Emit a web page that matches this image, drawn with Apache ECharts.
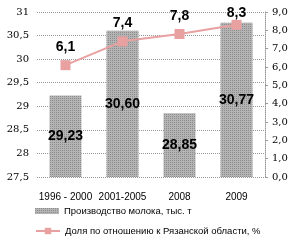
<!DOCTYPE html>
<html><head><meta charset="utf-8">
<script src="https://cdn.jsdelivr.net/npm/echarts@6/dist/echarts.min.js"></script>
<style>html,body{margin:0;padding:0;background:#fff}#c{width:296px;height:240px}</style>
</head><body><div id="c"></div>
<script>
const categories = ['1996 - 2000', '2001-2005', '2008', '2009'];
const milkProduction = [29.23, 30.60, 28.85, 30.77];
const regionShare = [6.1, 7.4, 7.8, 8.3];
const seriesNames = ['Производство молока, тыс. т', 'Доля по отношению к Рязанской области, %'];

const comma = s => String(s).replace('.', ',');
const legendText = {fontFamily: 'Liberation Sans', fontSize: 9.5, color: '#000'};
const chart = echarts.init(document.getElementById('c'), null, {renderer: 'canvas'});
chart.setOption({
  animation: false,
  grid: {left: 37, right: 31, top: 12, bottom: 63},
  legend: [{
    left: 35, top: 206, padding: 0, itemWidth: 24, itemHeight: 6, itemGap: 4,
    textStyle: legendText,
    data: [{name: seriesNames[0], icon: 'rect'}]
  }, {
    left: 35, top: 226, padding: 0, itemWidth: 24, itemHeight: 8,
    textStyle: legendText,
    data: [{name: seriesNames[1]}]
  }],
  xAxis: {
    type: 'category', data: categories,
    axisLine: {show: false}, axisTick: {show: false},
    axisLabel: {interval: 0, fontFamily: 'Liberation Sans', fontSize: 10, color: '#000', margin: 15}
  },
  yAxis: [{
    type: 'value', min: 27.5, max: 31, interval: 0.5,
    axisLine: {show: false}, axisTick: {show: false},
    axisLabel: {fontFamily: 'DejaVu Serif', fontSize: 10, color: '#000', margin: 8, formatter: v => comma(v)},
    splitLine: {lineStyle: {color: '#999', type: [1, 1], width: 1}}
  }, {
    type: 'value', min: 0, max: 9, interval: 1, position: 'right',
    axisLine: {show: true, lineStyle: {color: '#999', type: [1, 1]}},
    axisTick: {show: true, length: 3, lineStyle: {color: '#999'}},
    axisLabel: {fontFamily: 'DejaVu Serif', fontSize: 10, color: '#000', margin: 7, formatter: v => comma(v.toFixed(1))},
    splitLine: {show: false}
  }],
  series: [{
    name: seriesNames[0], type: 'bar', yAxisIndex: 0, data: milkProduction,
    barWidth: '56%',
    itemStyle: {color: '#b4b4b4', decal: {symbol: 'rect', symbolSize: 1, dashArrayX: [1, 1], dashArrayY: [1, 1], color: '#8c8c8c'}},
    label: {show: true, position: 'inside', fontFamily: 'Liberation Sans', fontWeight: 'bold', fontSize: 14, color: '#000',
      formatter: p => comma(p.value.toFixed(2))}
  }, {
    name: seriesNames[1], type: 'line', yAxisIndex: 1,
    data: regionShare.map((v, i) => i === regionShare.length - 1 ? {value: v, label: {distance: 0}} : v),
    symbol: 'rect', symbolSize: 10,
    lineStyle: {color: '#e8a0a0', width: 2},
    itemStyle: {color: '#e8a0a0'},
    label: {show: true, position: 'top', distance: 6, fontFamily: 'Liberation Sans', fontWeight: 'bold', fontSize: 14, color: '#000',
      formatter: p => comma(p.value.toFixed(1))}
  }]
});
</script></body></html>
